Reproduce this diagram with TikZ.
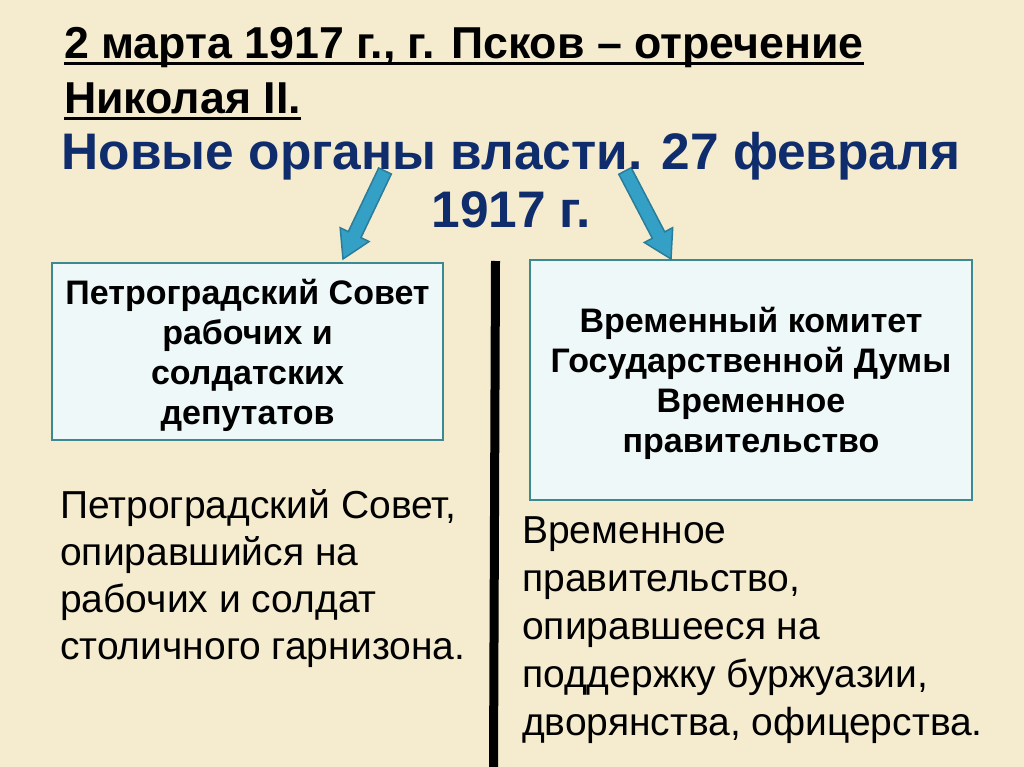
\documentclass[tikz,border=0pt]{standalone}
\usepackage{fontspec}
\setmainfont{Liberation Sans}
\usetikzlibrary{calc}
\definecolor{bgc}{HTML}{F5ECCF}
\definecolor{navy}{HTML}{0F2C6C}
\definecolor{boxline}{HTML}{3B8A92}
\definecolor{boxfill}{HTML}{EEF8F8}
\definecolor{arrfill}{HTML}{35A0C6}
\definecolor{arrline}{HTML}{2A7C99}
\begin{document}
\begin{tikzpicture}[x=1pt,y=-1pt,
  titletext/.style={inner sep=0pt, font=\fontsize{44.7}{55}\selectfont\bfseries, text=black},
  headtext/.style={inner sep=0pt, font=\fontsize{51.4}{58}\selectfont\bfseries, text=navy},
  uline/.style={line width=3pt, black},
  boxnode/.style={draw=boxline, fill=boxfill, line width=2.5pt, align=center, inner sep=0pt,
    font=\fontsize{34}{40}\selectfont\bfseries},
  plaintext/.style={inner sep=0pt, align=left, font=\fontsize{39}{47}\selectfont},
  bigarrow/.style={fill=arrfill, draw=arrline, line width=1.5pt, line join=miter}
]
\fill[bgc] (0,0) rectangle (1024,767);
\useasboundingbox (0,0) rectangle (1024,767);

% title
\node[titletext, anchor=base west] (t1) at (64,59) {2 марта 1917 г., г. Псков – отречение};
\node[titletext, anchor=base west] (t2) at (64,114) {Николая II.};
\draw[uline] ($(t1.base west)+(0,5)$) -- ($(t1.base east)+(0,5)$);
\draw[uline] ($(t2.base west)+(0,5)$) -- ($(t2.base east)+(0,5)$);

% boxes
\node[boxnode, minimum width=391pt, minimum height=177pt] (lb) at (247.5,351.5)
  {\rule{0pt}{33pt}Петроградский Совет\\рабочих и\\солдатских\\депутатов};
\node[boxnode, minimum width=442pt, minimum height=240pt] (rb) at (751,380)
  {\rule{0pt}{33pt}Временный комитет\\Государственной Думы\\Временное\\правительство};

% arrows
\coordinate (lat) at (385,171);
\coordinate (lap) at (343,259);
\coordinate (lah) at ($(lap)!27pt!(lat)$);
\coordinate (rat) at (625,171);
\coordinate (rap) at (671,259);
\coordinate (rah) at ($(rap)!27pt!(rat)$);
\draw[bigarrow] ($(lat)!7pt!90:(lap)$) -- ($(lah)!7pt!90:(lap)$) -- ($(lah)!16pt!90:(lap)$)
  -- (lap) -- ($(lah)!16pt!-90:(lap)$) -- ($(lah)!7pt!-90:(lap)$) -- ($(lat)!7pt!-90:(lap)$) -- cycle;
\draw[bigarrow] ($(rat)!7pt!90:(rap)$) -- ($(rah)!7pt!90:(rap)$) -- ($(rah)!16pt!90:(rap)$)
  -- (rap) -- ($(rah)!16pt!-90:(rap)$) -- ($(rah)!7pt!-90:(rap)$) -- ($(rat)!7pt!-90:(rap)$) -- cycle;

% heading
\node[headtext, anchor=base] (h1) at (511,170) {Новые органы власти. 27 февраля};
\node[headtext, anchor=base] (h2) at (511,228) {1917 г.};

% divider
\coordinate (vtop) at (495.5,261);
\coordinate (vbot) at (493.5,767);
\draw[line width=9pt, black] (vtop) -- (vbot);

% plain texts
\node[plaintext, anchor=north west] (lt) at (60,485)
  {\strut Петроградский Совет,\\опиравшийся на\\рабочих и солдат\\столичного гарнизона.};
\node[plaintext, anchor=north west, font=\fontsize{39}{48}\selectfont] (rt) at (522,510)
  {\strut Временное\\правительство,\\опиравшееся на\\поддержку буржуазии,\\дворянства, офицерства.};
\end{tikzpicture}
\end{document}
